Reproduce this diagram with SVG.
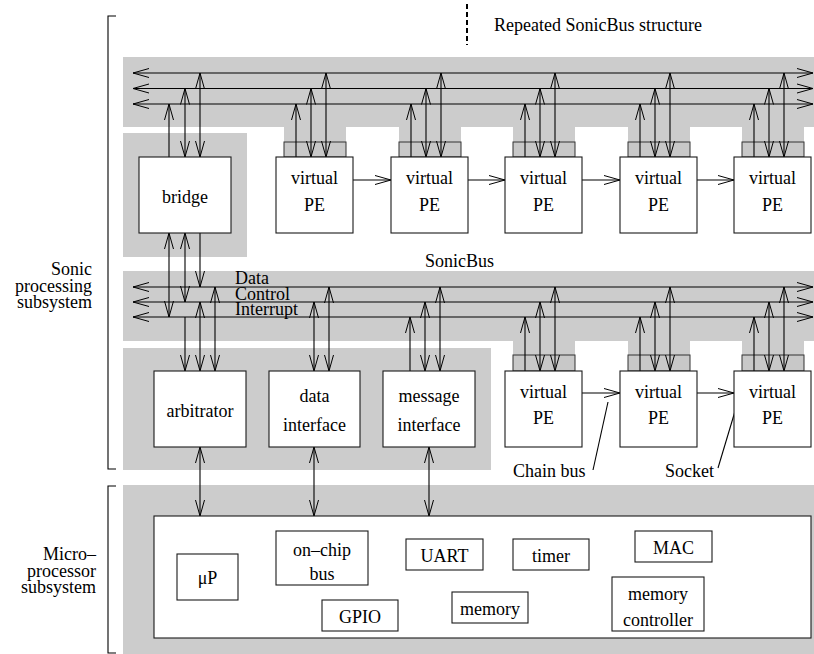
<svg xmlns="http://www.w3.org/2000/svg" width="814" height="654" viewBox="0 0 814 654" font-family="Liberation Serif, Times New Roman, DejaVu Serif, serif">
<defs>
<marker id="ah" markerUnits="userSpaceOnUse" markerWidth="20" markerHeight="12" viewBox="-18 -6 20 12" refX="0" refY="0" orient="auto-start-reverse">
<path d="M-16,-4.5 L0,0 L-16,4.5" fill="none" stroke="#000" stroke-width="1"/>
</marker>
<style>
.g{fill:#cccccc}
.box{fill:#fff;stroke:#1a1a1a;stroke-width:1.1}
.sock{fill:#c8c8c8;stroke:#333;stroke-width:1}
.ln{stroke:#000;stroke-width:1.1;fill:none}
.a2{marker-start:url(#ah);marker-end:url(#ah)}
.a1{marker-end:url(#ah)}
text{font-family:'Liberation Serif','Times New Roman','DejaVu Serif',serif;font-size:18px;fill:#000}
.c{text-anchor:middle}
.e{text-anchor:end}
</style>
</defs>

<g id="background">
<rect class="g" x="123" y="57" width="691" height="70"/>
<rect class="g" x="284" y="127" width="62" height="15"/>
<rect class="g" x="399" y="127" width="62" height="15"/>
<rect class="g" x="513" y="127" width="62" height="15"/>
<rect class="g" x="628" y="127" width="62" height="15"/>
<rect class="g" x="742" y="127" width="62" height="15"/>
<rect class="g" x="123" y="133" width="124" height="124"/>
<rect class="g" x="123" y="271" width="691" height="70"/>
<rect class="g" x="513" y="341" width="62" height="14"/>
<rect class="g" x="628" y="341" width="62" height="14"/>
<rect class="g" x="742" y="341" width="62" height="14"/>
<rect class="g" x="123" y="348" width="368" height="122"/>
<rect class="g" x="123" y="485" width="691" height="169"/>
</g>

<g id="labels">
<line x1="467" y1="4" x2="467" y2="45" stroke="#000" stroke-width="2" stroke-dasharray="5,3"/>
<text x="494" y="31">Repeated SonicBus structure</text>
<text x="425" y="267">SonicBus</text>
<text x="235" y="284">Data</text>
<text x="235" y="300">Control</text>
<text x="235" y="315">Interrupt</text>
<path class="ln" d="M116,16 H108 V469 H116"/>
<path class="ln" d="M116,486 H108 V653 H116"/>
<text class="e" x="92" y="275">Sonic</text>
<text class="e" x="92" y="292">processing</text>
<text class="e" x="92" y="308">subsystem</text>
<text class="e" x="96" y="560">Micro–</text>
<text class="e" x="96" y="577">processor</text>
<text class="e" x="96" y="593">subsystem</text>
<text x="513" y="477">Chain bus</text>
<text x="665" y="477">Socket</text>
<line class="ln" x1="593" y1="470" x2="608" y2="402"/>
<line class="ln" x1="718" y1="468" x2="751" y2="358"/>
</g>

<g id="sockets">
<rect class="sock" x="284" y="142" width="62" height="15"/>
<rect class="sock" x="399" y="142" width="62" height="15"/>
<rect class="sock" x="513" y="142" width="62" height="15"/>
<rect class="sock" x="628" y="142" width="62" height="15"/>
<rect class="sock" x="742" y="142" width="62" height="15"/>
<rect class="sock" x="513" y="355" width="62" height="16"/>
<rect class="sock" x="628" y="355" width="62" height="16"/>
<rect class="sock" x="742" y="355" width="62" height="16"/>
</g>

<g id="connectors">
<line class="ln a2" x1="133" y1="73" x2="813" y2="73"/>
<line class="ln a2" x1="133" y1="88.5" x2="813" y2="88.5"/>
<line class="ln a2" x1="133" y1="104" x2="813" y2="104"/>
<line class="ln a2" x1="133" y1="287" x2="813" y2="287"/>
<line class="ln a2" x1="133" y1="302" x2="813" y2="302"/>
<line class="ln a2" x1="133" y1="317" x2="813" y2="317"/>
<line class="ln a1" x1="169" y1="157" x2="169" y2="104"/>
<line class="ln a2" x1="185" y1="88.5" x2="185" y2="157"/>
<line class="ln a2" x1="200" y1="73" x2="200" y2="157"/>
<line class="ln a2" x1="169" y1="317" x2="169" y2="233"/>
<line class="ln a2" x1="185" y1="302" x2="185" y2="233"/>
<line class="ln a1" x1="200" y1="233" x2="200" y2="287"/>
<line class="ln a1" x1="296" y1="157" x2="296" y2="104"/>
<line class="ln a2" x1="311" y1="88.5" x2="311" y2="157"/>
<line class="ln a2" x1="326" y1="73" x2="326" y2="157"/>
<line class="ln a1" x1="411" y1="157" x2="411" y2="104"/>
<line class="ln a2" x1="426" y1="88.5" x2="426" y2="157"/>
<line class="ln a2" x1="441" y1="73" x2="441" y2="157"/>
<line class="ln a1" x1="525" y1="157" x2="525" y2="104"/>
<line class="ln a2" x1="540" y1="88.5" x2="540" y2="157"/>
<line class="ln a2" x1="555" y1="73" x2="555" y2="157"/>
<line class="ln a1" x1="640" y1="157" x2="640" y2="104"/>
<line class="ln a2" x1="655" y1="88.5" x2="655" y2="157"/>
<line class="ln a2" x1="670" y1="73" x2="670" y2="157"/>
<line class="ln a1" x1="754" y1="157" x2="754" y2="104"/>
<line class="ln a2" x1="769" y1="88.5" x2="769" y2="157"/>
<line class="ln a2" x1="784" y1="73" x2="784" y2="157"/>
<line class="ln a1" x1="353" y1="180" x2="391" y2="180"/>
<line class="ln a1" x1="468" y1="180" x2="505" y2="180"/>
<line class="ln a1" x1="582" y1="180" x2="620" y2="180"/>
<line class="ln a1" x1="697" y1="180" x2="734" y2="180"/>
<line class="ln a1" x1="185" y1="317" x2="185" y2="371"/>
<line class="ln a2" x1="200" y1="302" x2="200" y2="371"/>
<line class="ln a2" x1="215" y1="287" x2="215" y2="371"/>
<line class="ln a2" x1="314" y1="302" x2="314" y2="371"/>
<line class="ln a2" x1="329" y1="287" x2="329" y2="371"/>
<line class="ln a1" x1="410" y1="371" x2="410" y2="317"/>
<line class="ln a2" x1="425" y1="302" x2="425" y2="371"/>
<line class="ln a2" x1="440" y1="287" x2="440" y2="371"/>
<line class="ln a1" x1="525" y1="371" x2="525" y2="317"/>
<line class="ln a2" x1="540" y1="302" x2="540" y2="371"/>
<line class="ln a2" x1="555" y1="287" x2="555" y2="371"/>
<line class="ln a1" x1="640" y1="371" x2="640" y2="317"/>
<line class="ln a2" x1="655" y1="302" x2="655" y2="371"/>
<line class="ln a2" x1="670" y1="287" x2="670" y2="371"/>
<line class="ln a1" x1="754" y1="371" x2="754" y2="317"/>
<line class="ln a2" x1="769" y1="302" x2="769" y2="371"/>
<line class="ln a2" x1="784" y1="287" x2="784" y2="371"/>
<line class="ln a1" x1="582" y1="393" x2="620" y2="393"/>
<line class="ln a1" x1="697" y1="393" x2="734" y2="393"/>
<line class="ln a2" x1="200" y1="447" x2="200" y2="516"/>
<line class="ln a2" x1="314" y1="447" x2="314" y2="516"/>
<line class="ln a2" x1="429" y1="447" x2="429" y2="516"/>
</g>

<g id="bridge"><rect class="box" x="139" y="157" width="92" height="76"/><text class="c" x="185" y="203">bridge</text></g>
<g id="pe1"><rect class="box" x="276" y="157" width="77" height="76"/><text class="c" x="314.5" y="184">virtual</text><text class="c" x="314.5" y="211">PE</text></g>
<g id="pe2"><rect class="box" x="391" y="157" width="77" height="76"/><text class="c" x="429.5" y="184">virtual</text><text class="c" x="429.5" y="211">PE</text></g>
<g id="pe3"><rect class="box" x="505" y="157" width="77" height="76"/><text class="c" x="543.5" y="184">virtual</text><text class="c" x="543.5" y="211">PE</text></g>
<g id="pe4"><rect class="box" x="620" y="157" width="77" height="76"/><text class="c" x="658.5" y="184">virtual</text><text class="c" x="658.5" y="211">PE</text></g>
<g id="pe5"><rect class="box" x="734" y="157" width="77" height="76"/><text class="c" x="772.5" y="184">virtual</text><text class="c" x="772.5" y="211">PE</text></g>

<g id="arbitrator"><rect class="box" x="154" y="371" width="92" height="76"/><text class="c" x="200" y="417">arbitrator</text></g>
<g id="data-interface"><rect class="box" x="269" y="371" width="91" height="76"/><text class="c" x="314.5" y="402">data</text><text class="c" x="314.5" y="431">interface</text></g>
<g id="message-interface"><rect class="box" x="383" y="371" width="92" height="76"/><text class="c" x="429" y="402">message</text><text class="c" x="429" y="431">interface</text></g>
<g id="pe6"><rect class="box" x="505" y="371" width="77" height="76"/><text class="c" x="543.5" y="398">virtual</text><text class="c" x="543.5" y="424">PE</text></g>
<g id="pe7"><rect class="box" x="620" y="371" width="77" height="76"/><text class="c" x="658.5" y="398">virtual</text><text class="c" x="658.5" y="424">PE</text></g>
<g id="pe8"><rect class="box" x="734" y="371" width="77" height="76"/><text class="c" x="772.5" y="398">virtual</text><text class="c" x="772.5" y="424">PE</text></g>

<g id="microprocessor"><rect class="box" x="154" y="516" width="657" height="122"/></g>
<g id="up"><rect class="box" x="177" y="554" width="61" height="46"/><text class="c" x="207.5" y="584">μP</text></g>
<g id="onchip-bus"><rect class="box" x="276" y="531" width="92" height="54"/><text class="c" x="322" y="556">on–chip</text><text class="c" x="322" y="580">bus</text></g>
<g id="gpio"><rect class="box" x="322" y="600" width="76" height="31"/><text class="c" x="360" y="623">GPIO</text></g>
<g id="uart"><rect class="box" x="406" y="539" width="77" height="31"/><text class="c" x="444.5" y="562">UART</text></g>
<g id="timer"><rect class="box" x="513" y="539" width="76" height="31"/><text class="c" x="551" y="562">timer</text></g>
<g id="mac"><rect class="box" x="635" y="531" width="77" height="31"/><text class="c" x="673.5" y="554">MAC</text></g>
<g id="memory"><rect class="box" x="452" y="592" width="76" height="31"/><text class="c" x="490" y="615">memory</text></g>
<g id="memory-controller"><rect class="box" x="612" y="577" width="92" height="54"/><text class="c" x="658" y="600">memory</text><text class="c" x="658" y="626">controller</text></g>
</svg>
